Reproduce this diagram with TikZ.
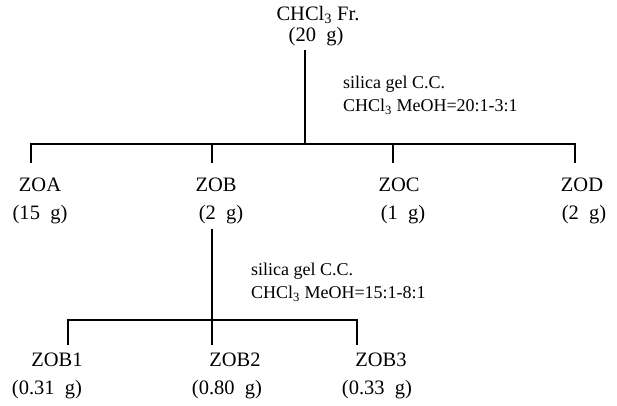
\documentclass[tikz,border=0pt]{standalone}
\usepackage{fontspec}
\setmainfont{Liberation Serif}
\usetikzlibrary{positioning}
\tikzstyle{frac} = [inner sep=0pt, font=\fontsize{20.5}{22}\selectfont]
\tikzstyle{yield} = [inner sep=0pt, font=\fontsize{20.5}{22}\selectfont]
\tikzstyle{cond} = [inner sep=0pt, align=left, anchor=north west, font=\fontsize{18}{23}\selectfont]
\tikzstyle{lin} = [line width=1.3pt]
\def\gsp{\enspace}

\begin{document}
\begin{tikzpicture}[x=1pt,y=-1pt]
  \useasboundingbox (0,0) rectangle (617,405);

  % starting fraction
  \node (chcl) [frac] at (318,15) {CHCl\textsubscript{3} Fr.};
  \node (chclw) [yield] at (316,37) {(20\gsp g)};

  \node (cond1) [cond] at (343,76) {silica gel C.C.\\CHCl\textsubscript{3} MeOH=20:1-3:1};

  % first column
  \node (zoa) [frac] at (40,185) {ZOA};
  \node (zoaw) [yield] at (40,215) {(15\gsp g)};
  \node (zob) [frac] at (216,185) {ZOB};
  \node (zobw) [yield] at (221,215) {(2\gsp g)};
  \node (zoc) [frac] at (399,185) {ZOC};
  \node (zocw) [yield] at (403,215) {(1\gsp g)};
  \node (zod) [frac] at (582,185) {ZOD};
  \node (zodw) [yield] at (584,215) {(2\gsp g)};

  \coordinate (s1) at (305,144);
  \coordinate (da) at (31,163);
  \coordinate (db) at (212,163);
  \coordinate (dc) at (393,163);
  \coordinate (dd) at (575,163);

  \draw [lin,shorten <=3pt] (chclw.south -| s1) -- (s1);
  \draw [lin] (da) -- (da |- s1) -- (dd |- s1) -- (dd);
  \draw [lin] (db |- s1) -- (db);
  \draw [lin] (dc |- s1) -- (dc);

  % ZOB column
  \node (cond2) [cond] at (251,263) {silica gel C.C.\\CHCl\textsubscript{3} MeOH=15:1-8:1};

  \node (zob1) [frac] at (57,360) {ZOB1};
  \node (zob1w) [yield] at (47,390) {(0.31\gsp g)};
  \node (zob2) [frac] at (235,360) {ZOB2};
  \node (zob2w) [yield] at (227,390) {(0.80\gsp g)};
  \node (zob3) [frac] at (381,360) {ZOB3};
  \node (zob3w) [yield] at (377,390) {(0.33\gsp g)};

  \coordinate (s2) at (212,320);
  \coordinate (e1) at (68,345);
  \coordinate (e2) at (212,345);
  \coordinate (e3) at (357,345);

  \draw [lin,shorten <=4pt] (zobw.south -| e2) -- (e2);
  \draw [lin] (e1) -- (e1 |- s2) -- (e3 |- s2) -- (e3);

\end{tikzpicture}
\end{document}
